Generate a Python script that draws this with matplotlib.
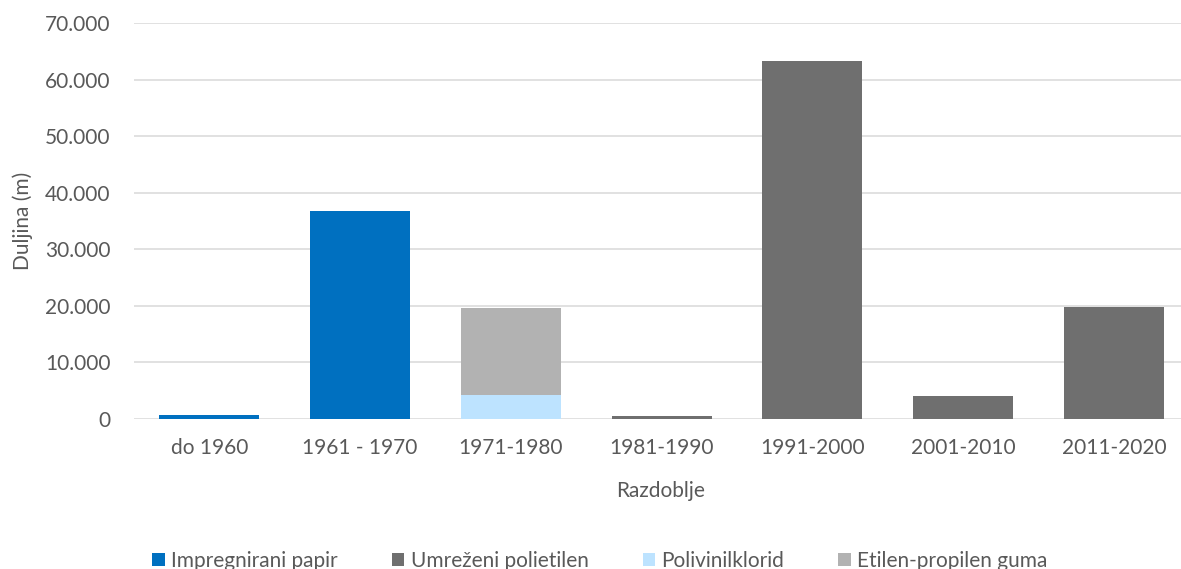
import matplotlib
matplotlib.use("Agg")
import matplotlib.pyplot as plt
from matplotlib.ticker import FuncFormatter
from matplotlib.patches import Patch
import numpy as np

categories = ["do 1960", "1961 - 1970", "1971-1980", "1981-1990", "1991-2000", "2001-2010", "2011-2020"]
impregnirani_papir = [700, 36700, 0, 0, 0, 0, 0]
umrezeni_polietilen = [0, 0, 0, 500, 63200, 4100, 19800]
polivinilklorid = [0, 0, 4300, 0, 0, 0, 0]
etilen_propilen_guma = [0, 0, 15400, 0, 0, 0, 0]
series_names = ["Impregnirani papir", "Umreženi polietilen", "Polivinilklorid", "Etilen-propilen guma"]
colors = ["#0070C0", "#6F6F6F", "#BDE3FF", "#B2B2B2"]
yticks = [0, 10000, 20000, 30000, 40000, 50000, 60000, 70000]

plt.rcParams['font.family'] = ['Lato', 'DejaVu Sans']
text_color = "#595959"
fs = 15

W, H = 1181, 569
fig = plt.figure(figsize=(W / 100, H / 100), dpi=100)
left_px, right_px, top_px, bot_px = 134, 1181, 23, 419
ax = fig.add_axes([left_px / W, 1 - bot_px / H, (right_px - left_px) / W, (bot_px - top_px) / H])

x = np.arange(len(categories))
width = 0.663
data = [impregnirani_papir, umrezeni_polietilen, polivinilklorid, etilen_propilen_guma]
bottom = np.zeros(len(categories))
for vals, c in zip(data, colors):
    v = np.array(vals, dtype=float)
    ax.bar(x, v, width, bottom=bottom, color=c, zorder=3)
    bottom += v

step_px = 150.8
ax.set_xlim(-0.5, 6.5 - (1189.4 - 1181) / step_px)
ax.set_ylim(0, 70000)
ax.set_yticks(yticks)
ax.yaxis.set_major_formatter(FuncFormatter(lambda v, p: "0" if v == 0 else f"{int(v):,}".replace(",", ".")))
ax.set_xticks(x)
ax.set_xticklabels(categories)
ax.tick_params(axis='both', length=0, labelsize=fs, colors=text_color)
ax.tick_params(axis='y', pad=17)
ax.tick_params(axis='x', pad=14)
ax.grid(axis='y', color="#D9D9D9", linewidth=1.1, zorder=0)
ax.set_axisbelow(True)
for s in ax.spines.values():
    s.set_visible(False)

fig.text(22.5 / W, 1 - 221 / H, "Duljina (m)", rotation=90, ha='center', va='center',
         fontsize=fs, color=text_color)
fig.text(661 / W, 1 - 491 / H, "Razdoblje", ha='center', va='center', fontsize=fs, color=text_color)

handles = [Patch(facecolor=c, edgecolor='none') for c in colors]
fig.legend(handles, series_names, loc='center', bbox_to_anchor=(600 / W, 1 - 561 / H), ncol=4,
           frameon=False, fontsize=fs, labelcolor=text_color, handlelength=0.6, handleheight=0.6,
           handletextpad=0.3, columnspacing=2.6)

fig.savefig("out.png", dpi=100)
